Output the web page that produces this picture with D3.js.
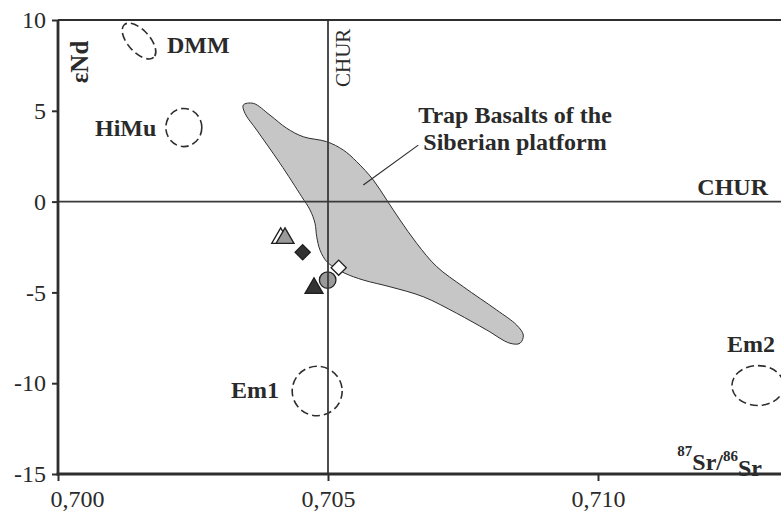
<!DOCTYPE html>
<html>
<head>
<meta charset="utf-8">
<script src="https://cdn.jsdelivr.net/npm/d3@7"></script>
<style>
  html, body { margin: 0; padding: 0; background: #fff; }
  svg { display: block; }
  text { font-family: "Liberation Serif", "Times New Roman", serif; fill: #2a2a2a; }
</style>
</head>
<body>
<svg id="chart" width="781" height="512"></svg>
<script>
// ---- data ----
const xTicks = [0.700, 0.705, 0.710];
const xTickLabels = ["0,700", "0,705", "0,710"];
const yTicks = [10, 5, 0, -5, -10, -15];
const yTickLabels = ["10", "5", "0", "-5", "-10", "-15"];
const xDomain = [0.700, 0.7135];
const yDomain = [-15, 10];

const churSr = 0.705;
const churNd = 0;

// mantle reservoirs (centre and half-extent in data units)
const resNames = ["DMM", "HiMu", "Em1", "Em2"];
const resSr = [0.70150, 0.70233, 0.70480, 0.71296];
const resNd = [8.84, 4.08, -10.43, -10.13];
const resSrHalf = [0.000407, 0.000333, 0.000463, 0.000480];
const resNdHalf = [0.606, 1.05, 1.36, 1.10];

// Trap basalts of the Siberian platform (field outline)
const trapSr = [0.703431, 0.703617, 0.703926, 0.704235, 0.704543, 0.704976, 0.705283, 0.705531,
  0.705839, 0.706087, 0.706333, 0.706643, 0.707013, 0.707506, 0.708124, 0.708494, 0.708617,
  0.708556, 0.708370, 0.707939, 0.707383, 0.706765, 0.706148, 0.705654, 0.705315, 0.705098,
  0.704976, 0.704852, 0.704791, 0.704759, 0.704667, 0.704513, 0.704111, 0.703680, 0.703463];
const trapNd = [5.32, 5.41, 4.76, 4.04, 3.57, 3.30, 2.84, 2.20,
  1.19, 0.09, -1.01, -2.30, -3.58, -4.69, -5.97, -6.80, -7.35,
  -7.80, -7.80, -7.07, -6.15, -5.24, -4.69, -4.32, -3.95, -3.58,
  -3.31, -2.67, -1.93, -1.19, -0.46, 0.27, 2.11, 3.94, 4.86];

// samples
const sampleSr = [0.704124, 0.704204, 0.704531, 0.705198, 0.704994, 0.704741];
const sampleNd = [-2.02, -2.02, -2.79, -3.64, -4.32, -4.77];
const sampleShape = ["triangle", "triangle", "diamond", "diamond", "circle", "triangle"];
const sampleFill = ["#ffffff", "#9a9a9a", "#333333", "#ffffff", "#9a9a9a", "#333333"];

// leader line for the trap label (data coords)
const leaderSr = [0.705654, 0.706672];
const leaderNd = [0.91, 3.11];

// ---- drawing ----
const svg = d3.select("#chart");
const mLeft = 58, mTop = 20, mBottom = 474;
const x = d3.scaleLinear().domain(xDomain).range([mLeft, mLeft + (xDomain[1] - xDomain[0]) / 0.005 * 270]);
const y = d3.scaleLinear().domain(yDomain).range([mBottom, mTop]);
const ink = "#2e2e2e";

// trap field
const trapPts = trapSr.map((s, i) => [x(s), y(trapNd[i])]);
svg.append("path")
  .attr("d", d3.line().curve(d3.curveCatmullRomClosed.alpha(0.5))(trapPts))
  .attr("fill", "#c6c6c6")
  .attr("stroke", ink)
  .attr("stroke-width", 1);

// reservoirs (dashed ellipses)
resNames.forEach((n, i) => {
  const cx = x(resSr[i]), cy = y(resNd[i]);
  const rx = x(resSr[i] + resSrHalf[i]) - x(resSr[i]);
  const ry = y(resNd[i]) - y(resNd[i] + resNdHalf[i]);
  svg.append("ellipse")
    .attr("cx", cx).attr("cy", cy).attr("rx", rx).attr("ry", ry)
    .attr("transform", n === "DMM" ? `rotate(48,${cx},${cy})` : null)
    .attr("fill", "none")
    .attr("stroke", ink)
    .attr("stroke-width", 1.6)
    .attr("stroke-dasharray", "8,4");
});

// samples
sampleSr.forEach((s, i) => {
  const px = x(s), py = y(sampleNd[i]);
  let sym, rot = 0;
  if (sampleShape[i] === "triangle") sym = d3.symbol(d3.symbolTriangle, 140);
  else if (sampleShape[i] === "diamond") { sym = d3.symbol(d3.symbolSquare, 115); rot = 45; }
  else sym = d3.symbol(d3.symbolCircle, 215);
  svg.append("path")
    .attr("d", sym())
    .attr("transform", `translate(${px},${py}) rotate(${rot})`)
    .attr("fill", sampleFill[i])
    .attr("stroke", "#1e1e1e")
    .attr("stroke-width", 1.3);
});

// CHUR lines
svg.append("line")
  .attr("x1", x(churSr)).attr("x2", x(churSr)).attr("y1", mTop).attr("y2", mBottom)
  .attr("stroke", "#3a3a3a").attr("stroke-width", 1.8);
svg.append("line")
  .attr("x1", mLeft).attr("x2", x(xDomain[1])).attr("y1", y(churNd)).attr("y2", y(churNd))
  .attr("stroke", "#3a3a3a").attr("stroke-width", 1.8);

// leader
svg.append("line")
  .attr("x1", x(leaderSr[0])).attr("y1", y(leaderNd[0]))
  .attr("x2", x(leaderSr[1])).attr("y2", y(leaderNd[1]))
  .attr("stroke", ink).attr("stroke-width", 1.2);

// frame top
svg.append("line")
  .attr("x1", mLeft).attr("x2", x(xDomain[1])).attr("y1", mTop).attr("y2", mTop)
  .attr("stroke", ink).attr("stroke-width", 2.2);

// axes
const yAxis = d3.axisLeft(y).tickValues(yTicks).tickFormat((d, i) => yTickLabels[i])
  .tickSize(6).tickSizeOuter(0).tickPadding(6);
const gy = svg.append("g").attr("transform", `translate(${mLeft},0)`).call(yAxis);
const xAxis = d3.axisBottom(x).tickValues(xTicks).tickFormat((d, i) => xTickLabels[i])
  .tickSize(7).tickSizeOuter(0).tickPadding(9);
const gx = svg.append("g").attr("transform", `translate(0,${mBottom})`).call(xAxis);
[gx, gy].forEach(g => {
  g.select(".domain").attr("stroke", ink).attr("stroke-width", 2.8);
  g.selectAll(".tick line").attr("stroke", ink).attr("stroke-width", 2);
  g.selectAll(".tick text")
    .style("font-family", '"Liberation Serif", serif')
    .style("font-size", "24px").attr("fill", "#222");
});
// first x label sits to the right of its tick, clear of the y labels
gx.selectAll(".tick text").filter(d => d === xTicks[0]).attr("dx", 19);
gy.select(".domain").attr("d", `M0,${mTop}V${mBottom + 1.4}`);
gx.select(".domain").attr("d", `M${mLeft - 1.4},0H${x(xDomain[1])}`);

// labels
function lab(txt, px, py, opts = {}) {
  const t = svg.append("text").attr("x", px).attr("y", py)
    .style("font-size", (opts.size || 24) + "px")
    .style("font-weight", opts.weight || "bold")
    .attr("text-anchor", opts.anchor || "start")
    .text(txt);
  if (opts.rotate) t.attr("transform", `rotate(${opts.rotate},${px},${py})`);
  return t;
}
lab("DMM", 167, 53);
lab("HiMu", 95, 136);
lab("Em1", 231, 398);
lab("Em2", 727, 352);
lab("CHUR", 768, 195, { anchor: "end" });
lab("CHUR", 350, 87, { size: 21, weight: "normal", rotate: -90 });
lab("εNd", 88, 62, { size: 25, anchor: "middle", rotate: -90 });
lab("Trap Basalts of the", 515, 123, { anchor: "middle" });
lab("Siberian platform", 515, 150, { anchor: "middle" });

// 87Sr/86Sr
const sr = svg.append("text").attr("x", 762).attr("y", 465).attr("text-anchor", "end")
  .style("font-weight", "bold").style("font-size", "24px");
sr.append("tspan").attr("dy", "-0.6em").style("font-size", "15px").text("87");
sr.append("tspan").attr("dy", "0.6em").text("Sr/");
sr.append("tspan").attr("dy", "-0.6em").style("font-size", "15px").text("86");
sr.append("tspan").attr("dy", "0.6em").text("Sr");
</script>
</body>
</html>
